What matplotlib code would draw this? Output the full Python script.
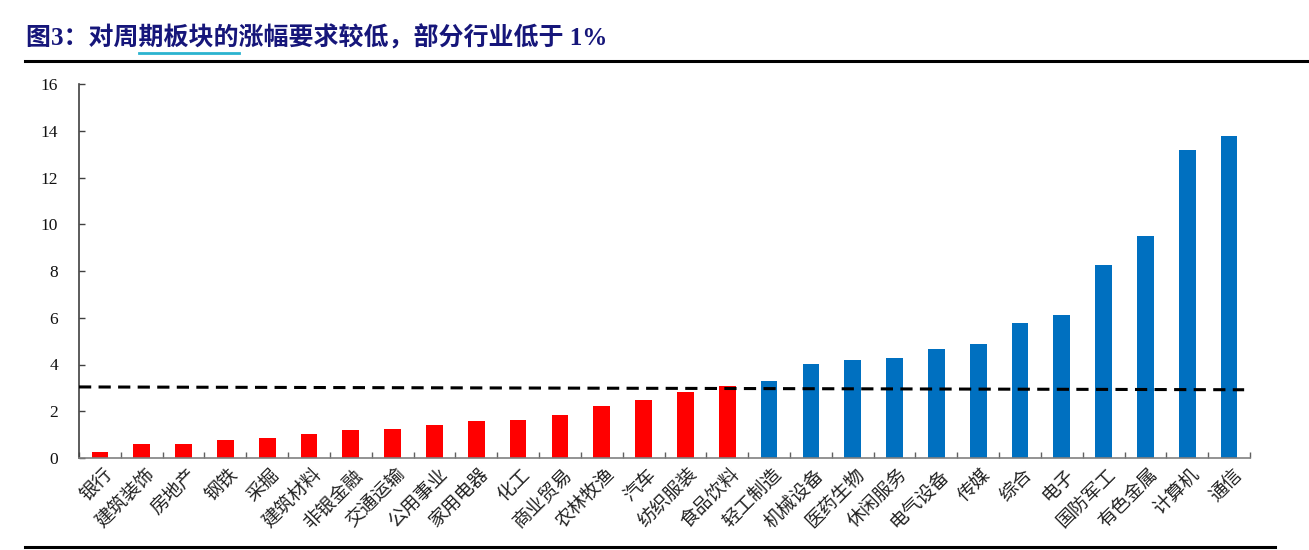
import matplotlib
matplotlib.use("Agg")
import matplotlib.pyplot as plt
from matplotlib.lines import Line2D

categories = ["银行", "建筑装饰", "房地产", "钢铁", "采掘", "建筑材料", "非银金融", "交通运输",
              "公用事业", "家用电器", "化工", "商业贸易", "农林牧渔", "汽车", "纺织服装", "食品饮料",
              "轻工制造", "机械设备", "医药生物", "休闲服务", "电气设备", "传媒", "综合", "电子",
              "国防军工", "有色金属", "计算机", "通信"]
values = [0.26, 0.60, 0.60, 0.77, 0.86, 1.03, 1.20, 1.24, 1.41, 1.58, 1.62, 1.84, 2.22, 2.48,
          2.82, 3.08, 3.29, 4.02, 4.19, 4.27, 4.66, 4.87, 5.77, 6.11, 8.25, 9.49, 13.17, 13.77]
n_red = 16
line_x = [-0.5, 27.36]
line_y = [3.04, 2.92]
yticks = [0, 2, 4, 6, 8, 10, 12, 14, 16]
title = "图3：对周期板块的涨幅要求较低，部分行业低于 1%"

RED = "#FF0000"
BLUE = "#0070C0"
fam = ["Liberation Serif", "Noto Sans CJK SC"]

fig = plt.figure(figsize=(13.09, 5.5), dpi=100)
ax = fig.add_axes([79/1309, 1-458/550, (1250-79)/1309, (458-84)/550])

x = list(range(len(categories)))
colors = [RED if i < n_red else BLUE for i in x]
ax.bar(x, values, width=0.4, color=colors, zorder=2)
ax.plot(line_x, line_y, color="black", lw=2.2, dashes=(4, 2.4), zorder=3)

ax.set_xlim(-0.5, len(categories) - 0.5)
ax.set_ylim(0, 16)
ax.set_yticks(yticks)
ax.set_yticklabels([str(v) for v in yticks], fontfamily=fam, fontsize=12.5, color="#111111")
ax.tick_params(axis="y", direction="in", length=4, width=1, pad=15, color="#404040")
ax.set_xticks([i - 0.5 for i in range(len(categories) + 1)], minor=False)
ax.set_xticklabels([])
ax.tick_params(axis="x", direction="in", length=4, width=1, color="#606060")
for s in ["top", "right"]:
    ax.spines[s].set_visible(False)
ax.spines["left"].set_color("#404040")
ax.spines["bottom"].set_color("#808080")
ax.spines["left"].set_linewidth(1.2)
ax.spines["bottom"].set_linewidth(1.2)

for i, c in enumerate(categories):
    ax.annotate(c, xy=(i, 0), xycoords=("data", "data"), xytext=(2, -6), textcoords="offset pixels",
                rotation=45, ha="right", va="top", rotation_mode="anchor",
                fontsize=13.5, fontfamily=["Noto Sans CJK SC"], fontweight="light", color="#222222")

# title
TFS = 18
tt = fig.text(26/1309, 1-38/550, title, fontsize=TFS, fontweight="bold", color="#16167A",
              fontfamily=fam, va="center", ha="left")
fig.canvas.draw()
r = fig.canvas.get_renderer()
pre = fig.text(0, 0, "图3：对周", fontsize=TFS, fontweight="bold", fontfamily=fam)
mid = fig.text(0, 0, "图3：对周期板块的", fontsize=TFS, fontweight="bold", fontfamily=fam)
w1 = pre.get_window_extent(r).width
w2 = mid.get_window_extent(r).width
pre.remove(); mid.remove()
bb = tt.get_window_extent(r)
x0 = bb.x0 + w1
x1 = bb.x0 + w2
fig.add_artist(Line2D([x0/1309, x1/1309], [1-53/550, 1-53/550], color="#2BB3CF", lw=2.0))

fig.add_artist(Line2D([25/1309, 1.0], [1-61/550, 1-61/550], color="black", lw=2.2))
fig.add_artist(Line2D([25/1309, 1275/1309], [1-547/550, 1-547/550], color="black", lw=2.2))

fig.savefig("out.png", dpi=100)
